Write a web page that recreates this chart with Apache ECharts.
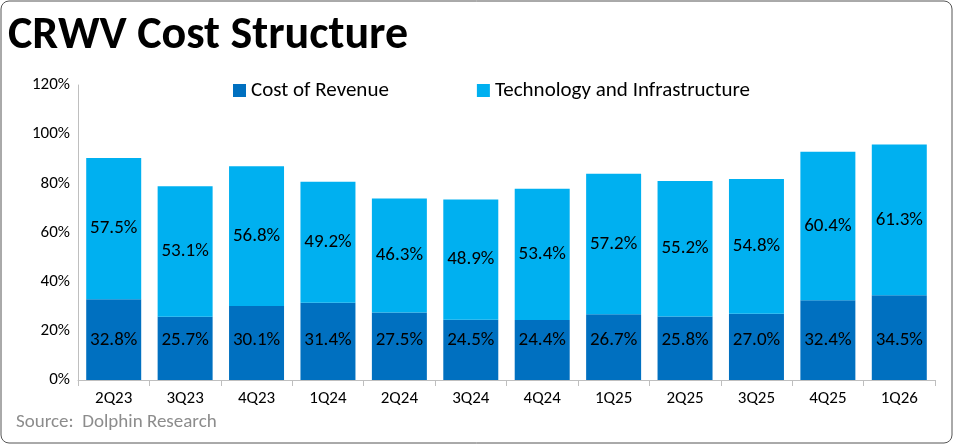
<!DOCTYPE html>
<html><head><meta charset="utf-8">
<script src="https://cdn.jsdelivr.net/npm/echarts@6/dist/echarts.min.js"></script>
<style>html,body{margin:0;background:#fff}#c{width:953px;height:444px}</style>
</head><body><div id="c"></div>
<script>
const quarters = ['2Q23','3Q23','4Q23','1Q24','2Q24','3Q24','4Q24','1Q25','2Q25','3Q25','4Q25','1Q26'];
const costOfRevenue = [32.8,25.7,30.1,31.4,27.5,24.5,24.4,26.7,25.8,27.0,32.4,34.5];
const techInfra = [57.5,53.1,56.8,49.2,46.3,48.9,53.4,57.2,55.2,54.8,60.4,61.3];

const font = 'Calibri, Carlito, Lato, "Liberation Sans", sans-serif';
const chart = echarts.init(document.getElementById('c'));
const lbl = {show: true, position: 'inside', color: '#000', fontSize: 19, fontFamily: font,
  formatter: p => p.value.toFixed(1) + '%'};
chart.setOption({
  animation: false,
  graphic: [
    {type: 'rect', shape: {x: 1, y: 1, width: 951, height: 442, r: 8}, style: {fill: 'none', stroke: '#555', lineWidth: 1}},
    {type: 'text', left: 8, top: 13, style: {text: 'CRWV Cost Structure', font: 'bold 46px ' + font, fill: '#000'}},
    {type: 'text', left: 16, top: 413, style: {text: 'Source:  Dolphin Research', font: '19px ' + font, fill: '#8c8c8c'}}
  ],
  legend: {top: 75, left: 228, itemGap: 88, itemWidth: 13, itemHeight: 13, icon: 'rect',
    textStyle: {fontSize: 21, fontFamily: font, color: '#000'}},
  grid: {left: 78, right: 18, top: 85, bottom: 64},
  xAxis: {type: 'category', data: quarters,
    axisLine: {lineStyle: {color: '#bfbfbf'}},
    axisTick: {show: true, length: 6, lineStyle: {color: '#bfbfbf'}},
    axisLabel: {color: '#000', fontSize: 17, fontFamily: font, margin: 10}},
  yAxis: {type: 'value', min: 0, max: 120, interval: 20,
    axisLine: {show: true, lineStyle: {color: '#bfbfbf'}},
    splitLine: {show: false},
    axisLabel: {color: '#000', fontSize: 17, fontFamily: font, formatter: '{value}%'}},
  series: [
    {name: 'Cost of Revenue', type: 'bar', stack: 'a', barWidth: '77%', data: costOfRevenue,
      itemStyle: {color: '#0070C0'}, label: Object.assign({}, lbl, {position: 'insideBottom', distance: 30})},
    {name: 'Technology and Infrastructure', type: 'bar', stack: 'a', data: techInfra,
      itemStyle: {color: '#00B0F0'}, label: lbl}
  ]
});
</script></body></html>
